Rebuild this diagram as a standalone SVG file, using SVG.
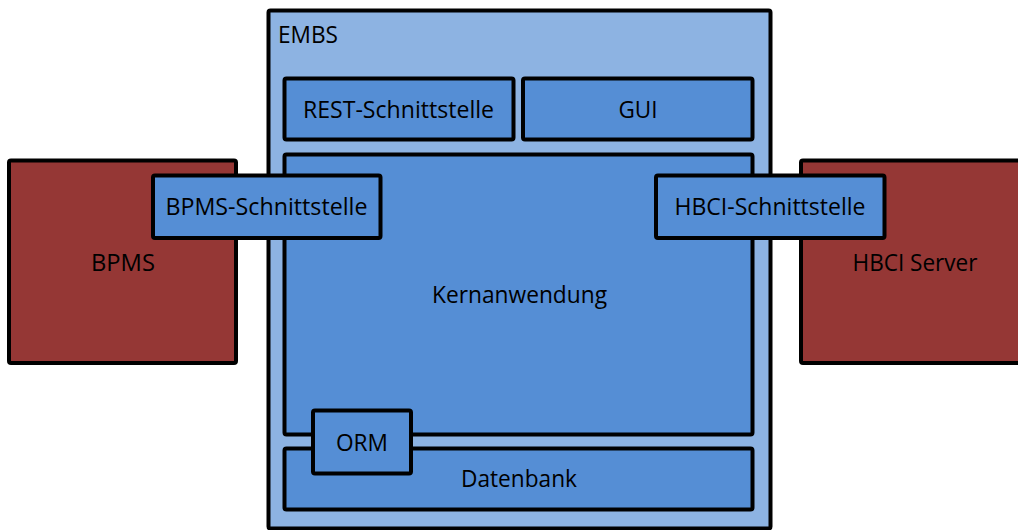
<svg xmlns="http://www.w3.org/2000/svg" width="1018" height="530" viewBox="0 0 1018 530">
  <style>
    .box { stroke: #000000; stroke-width: 4; }
    .outer { fill: #8DB3E2; }
    .comp { fill: #558ED5; }
    .ext { fill: #953735; }
    .lbl { font-family: "Open Sans", "Noto Sans", "Liberation Sans", sans-serif; font-size: 24px; fill: #000000; }
    .mid { text-anchor: middle; }
  </style>
  <rect width="1018" height="530" fill="#FFFFFF"/>

  <g id="embs">
    <rect class="box outer" x="268.5" y="10.5" width="502" height="518" rx="2"/>
    <text class="lbl" x="278" y="43" textLength="60" lengthAdjust="spacingAndGlyphs">EMBS</text>
  </g>

  <g id="bpms">
    <rect class="box ext" x="9" y="160.5" width="227" height="202.5" rx="2"/>
    <text class="lbl mid" x="123" y="271" textLength="64" lengthAdjust="spacingAndGlyphs">BPMS</text>
  </g>

  <g id="hbci-server">
    <rect class="box ext" x="801" y="160.5" width="230" height="202.5" rx="2"/>
    <text class="lbl mid" x="915" y="271" textLength="125" lengthAdjust="spacingAndGlyphs">HBCI Server</text>
  </g>

  <g id="rest">
    <rect class="box comp" x="284.5" y="78.5" width="229" height="61" rx="2"/>
    <text class="lbl mid" x="398.5" y="118" textLength="191" lengthAdjust="spacingAndGlyphs">REST-Schnittstelle</text>
  </g>

  <g id="gui">
    <rect class="box comp" x="523" y="78.5" width="229.5" height="61" rx="2"/>
    <text class="lbl mid" x="638" y="118" textLength="39" lengthAdjust="spacingAndGlyphs">GUI</text>
  </g>

  <g id="kernanwendung">
    <rect class="box comp" x="284.5" y="154.5" width="468" height="280" rx="2"/>
    <text class="lbl mid" x="519.5" y="303" textLength="175" lengthAdjust="spacingAndGlyphs">Kernanwendung</text>
  </g>

  <g id="datenbank">
    <rect class="box comp" x="284.5" y="448.5" width="468" height="61" rx="2"/>
    <text class="lbl mid" x="519" y="487" textLength="116" lengthAdjust="spacingAndGlyphs">Datenbank</text>
  </g>

  <g id="orm">
    <rect class="box comp" x="313" y="410.5" width="98" height="63" rx="2"/>
    <text class="lbl mid" x="362" y="451" textLength="52" lengthAdjust="spacingAndGlyphs">ORM</text>
  </g>

  <g id="bpms-schnittstelle">
    <rect class="box comp" x="153" y="175.5" width="227.5" height="62.5" rx="2"/>
    <text class="lbl mid" x="266.5" y="214.5" textLength="202" lengthAdjust="spacingAndGlyphs">BPMS-Schnittstelle</text>
  </g>

  <g id="hbci-schnittstelle">
    <rect class="box comp" x="656" y="175.5" width="228.5" height="62.5" rx="2"/>
    <text class="lbl mid" x="770" y="215" textLength="191" lengthAdjust="spacingAndGlyphs">HBCI-Schnittstelle</text>
  </g>

  <g id="connectors"/>
</svg>
